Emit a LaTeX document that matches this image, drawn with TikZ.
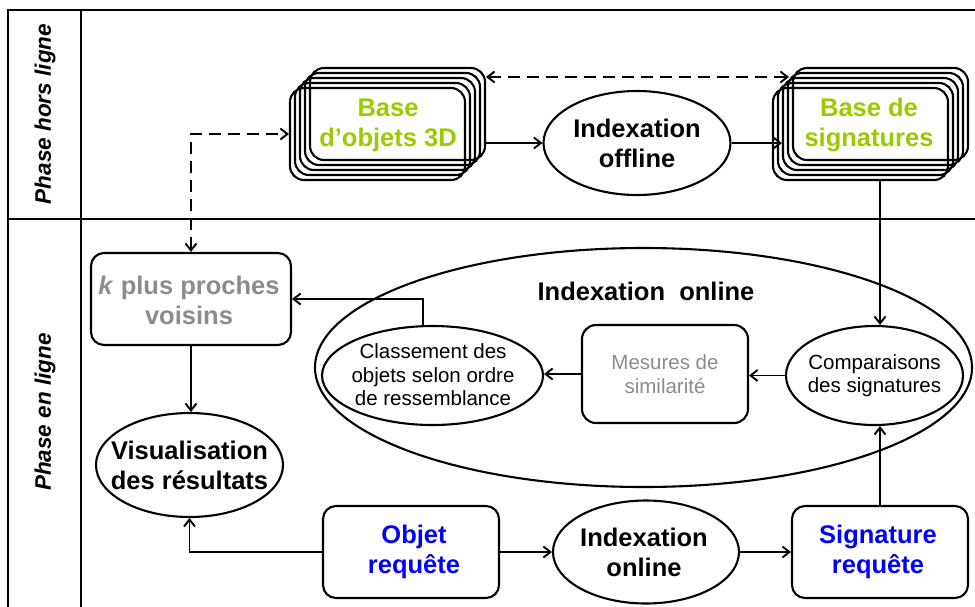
\documentclass[tikz,border=0pt]{standalone}
\usepackage{fontspec}
\setmainfont{Liberation Sans}
\usetikzlibrary{arrows.meta,shapes.geometric}
\definecolor{lgreen}{RGB}{153,204,0}
\definecolor{qblue}{RGB}{0,0,255}
\definecolor{tgray}{RGB}{140,140,140}
\begin{document}
\begin{tikzpicture}[x=1pt,y=-1pt,
  shp/.style={draw, line width=2.1pt},
  ell/.style={shp, ellipse, inner sep=0pt},
  rbox/.style={shp, rectangle, rounded corners=13pt, inner sep=0pt},
  stackbox/.style={shp, rectangle, rounded corners=14pt, inner sep=0pt, minimum width=175pt, minimum height=92pt},
  big/.style={font=\fontsize{25.5}{30}\selectfont\bfseries, align=center, inner sep=0pt},
  small/.style={font=\fontsize{20.5}{23.5}\selectfont, align=center, inner sep=0pt},
  phase/.style={font=\fontsize{22.5}{26}\selectfont\bfseries\itshape, rotate=90, inner sep=0pt},
  arr/.style={line width=1.9pt, -{Straight Barb[length=7pt,width=11pt]}},
  darr/.style={line width=1.9pt, dash pattern=on 12pt off 7pt, {Straight Barb[length=7pt,width=11pt]}-{Straight Barb[length=7pt,width=11pt]}},
  frame/.style={line width=2.3pt}
]
\clip (0,0) rectangle (975,606);
% frame
\draw[frame] (8,630) -- (8,10) -- (990,10);
\draw[frame] (81,10) -- (81,630);
\draw[frame] (8,219) -- (990,219);
\node[phase] (ph1) at (45,114) {Phase hors ligne};
\node[phase] (ph2) at (45,412) {Phase en ligne};

% stacks
\foreach \k/\n in {0/A,1/B,2/C,3/D,4/E}{
  \node[stackbox] (obj\n) at (397.5-5*\k,114+5*\k) {};
  \node[stackbox] (sig\n) at (880.5-5*\k,114+5*\k) {};
}
\node[big, text=lgreen] (objtxt) at (388,125) {Base\\d’objets 3D};
\node[big, text=lgreen] (sigtxt) at (869,125) {Base de\\signatures};

\node[ell, minimum width=187pt, minimum height=104pt] (offl) at (637,143) {};
\node[big] (offltxt) at (offl) {Indexation\\offline};

% online part
\node[ell, minimum width=657pt, minimum height=239pt] (big) at (643.5,367.5) {};
\node[big] (bigtxt) at (646,291) {Indexation\ \ online};

\node[rbox, minimum width=200pt, minimum height=92pt] (kbox) at (191,299) {};
\node[big, text=tgray] (ktxt) at (189,300) {\textit{k} plus proches\\voisins};

\node[ell, minimum width=187pt, minimum height=104pt] (vis) at (189.5,465) {};
\node[big] (vistxt) at (vis) {Visualisation\\des résultats};

\node[ell, minimum width=221pt, minimum height=99pt] (cls) at (432.5,375.5) {};
\node[small] (clstxt) at (433,375) {Classement des\\objets selon ordre\\de ressemblance};

\node[rbox, minimum width=166pt, minimum height=98pt, rounded corners=14pt] (mes) at (665,374) {};
\node[small, text=tgray] (mestxt) at (mes) {Mesures de\\similarité};

\node[ell, minimum width=177pt, minimum height=99pt] (comp) at (874.5,375.5) {};
\node[small] (comptxt) at (comp) {Comparaisons\\des signatures};

\node[rbox, minimum width=176pt, minimum height=92pt] (oreq) at (411,552) {};
\node[big, text=qblue] (oreqtxt) at (414,552) {Objet\\requête};

\node[ell, minimum width=186pt, minimum height=103pt] (ionl) at (646,552) {};
\node[big] (ionltxt) at (644,552) {Indexation\\online};

\node[rbox, minimum width=176pt, minimum height=92pt] (sreq) at (880,552) {};
\node[big, text=qblue] (sreqtxt) at (878,552) {Signature\\requête};

% connectors
\draw[arr] (offl.west -| objA.east) -- (offl.west);
\draw[arr] (offl.east) -- (offl.east -| sigC.west);
\draw[darr] (objA.east |- 0,77) -- ([xshift=-3pt]sigA.west |- 0,77);
\draw[darr] (kbox.north) |- (objE.west);
\draw[arr] (sreq.north |- sigE.south) -- (sreq.north |- comp.north);
\draw[arr] (sreq.north) -- (sreq.north |- comp.south);
\draw[arr] (comp.west) -- (comp.west -| mes.east);
\draw[arr] (mes.west) -- (mes.west -| cls.east);
\draw[arr] ([xshift=-9.5pt]cls.north) |- (kbox.east);
\draw[arr] (kbox.south) -- (kbox.south |- vis.north);
\draw[arr] (oreq.west) -| (vis.south);
\draw[arr] (oreq.east) -- (ionl.west);
\draw[arr] (ionl.east) -- (sreq.west);
\end{tikzpicture}
\end{document}
